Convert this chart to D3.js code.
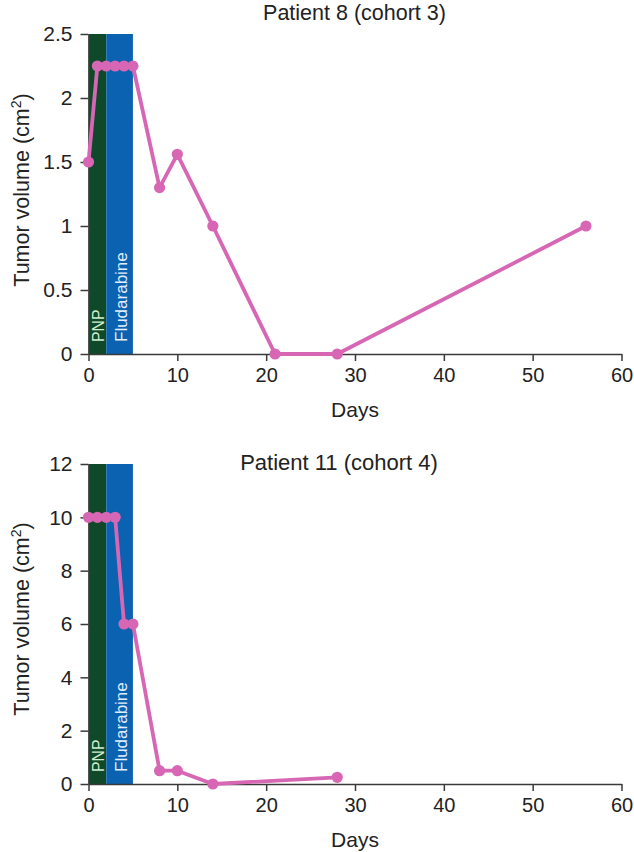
<!DOCTYPE html>
<html><head><meta charset="utf-8">
<script src="https://cdn.jsdelivr.net/npm/d3@7"></script>
<style>body{margin:0;background:#fff}svg{display:block;font-family:"Liberation Sans",Arial,sans-serif}</style>
</head><body><svg id="c" width="634" height="852"></svg>
<script>
const xTicks = [0,10,20,30,40,50,60];
const p8Days = [0,1,2,3,4,5,8,10,14,21,28,56];
const p8Vol  = [1.5,2.25,2.25,2.25,2.25,2.25,1.3,1.56,1.0,0,0,1.0];
const p8YTicks = [0,0.5,1,1.5,2,2.5];
const p11Days = [0,1,2,3,4,5,8,10,14,28];
const p11Vol  = [10,10,10,10,6,6,0.5,0.5,0,0.25];
const p11YTicks = [0,2,4,6,8,10,12];
const treatments = [{name:"PNP", start:0, end:2}, {name:"Fludarabine", start:2, end:5}];

const svg = d3.select("#c");
const pink = "#d767b4";
const FONT = "Liberation Sans, Arial, sans-serif";

function panel(cfg){
  const g = svg.append("g");
  const x = d3.scaleLinear().domain([0,60]).range([88.5,621.5]);
  const y = d3.scaleLinear().domain([0,cfg.ymax]).range([cfg.y0,cfg.y1]);
  const fills = ["#10492a","#0a62b0"], tcol = ["#cfeccc","#e2eefc"], tfs = [15.8,17], toff = [2.2,6.4];
  treatments.forEach((t,i)=>{
    g.append("rect").attr("x",x(t.start)).attr("y",y(cfg.ymax)).attr("width",x(t.end)-x(t.start)).attr("height",y(0)-y(cfg.ymax)).attr("fill",fills[i]);
  });
  const xa = g.append("g").attr("transform",`translate(0,${y(0)})`).call(d3.axisBottom(x).tickValues(xTicks).tickSize(7).tickSizeOuter(0).tickPadding(5));
  const ya = g.append("g").attr("transform",`translate(${x(0)},0)`).call(d3.axisLeft(y).tickValues(cfg.yTicks).tickFormat(d=>d3.format("")(d)).tickSize(8).tickSizeOuter(0).tickPadding(8));
  [xa,ya].forEach(a=>{a.selectAll("path,line").attr("stroke","#3a3a3a").attr("stroke-width",1.5);a.selectAll("text").attr("fill","#222").attr("font-size",21).attr("font-family",FONT);});
  xa.selectAll("text").attr("font-size",20).attr("dy","0.8em");
  treatments.forEach((t,i)=>{
    const bx = x(t.end) - toff[i];
    g.append("text").attr("transform",`translate(${bx},${y(0)-12}) rotate(-90)`).attr("fill",tcol[i]).attr("font-size",tfs[i]).text(t.name);
  });
  const pts = cfg.days.map((d,i)=>[d,cfg.vol[i]]);
  g.append("path").datum(pts).attr("fill","none").attr("stroke",pink).attr("stroke-width",3.8).attr("stroke-linejoin","round")
    .attr("d",d3.line().x(d=>x(d[0])).y(d=>y(d[1])));
  g.selectAll("circle.p").data(pts).join("circle").attr("cx",d=>x(d[0])).attr("cy",d=>y(d[1])).attr("r",5.6).attr("fill",pink);
  g.append("text").attr("x",cfg.tx).attr("y",cfg.ty).attr("text-anchor","middle").attr("font-size",cfg.tfs).attr("fill","#222").text(cfg.title);
  g.append("text").attr("x",355).attr("y",y(0)+63).attr("text-anchor","middle").attr("font-size",21).attr("fill","#222").text("Days");
  const yl = g.append("text").attr("transform",`translate(29,${cfg.ylc}) rotate(-90)`).attr("text-anchor","middle").attr("font-size",21.5).attr("fill","#222");
  yl.append("tspan").text("Tumor volume (cm");
  yl.append("tspan").attr("font-size",14).attr("dy",-8).text("2");
  yl.append("tspan").attr("dy",8).text(")");
}
panel({days:p8Days,vol:p8Vol,yTicks:p8YTicks,ymax:2.5,y0:354,y1:34,title:"Patient 8 (cohort 3)",tx:354.5,ty:20,tfs:21.5,ylc:190});
panel({days:p11Days,vol:p11Vol,yTicks:p11YTicks,ymax:12,y0:784,y1:464,title:"Patient 11 (cohort 4)",tx:339,ty:470,tfs:22,ylc:619});
</script></body></html>
